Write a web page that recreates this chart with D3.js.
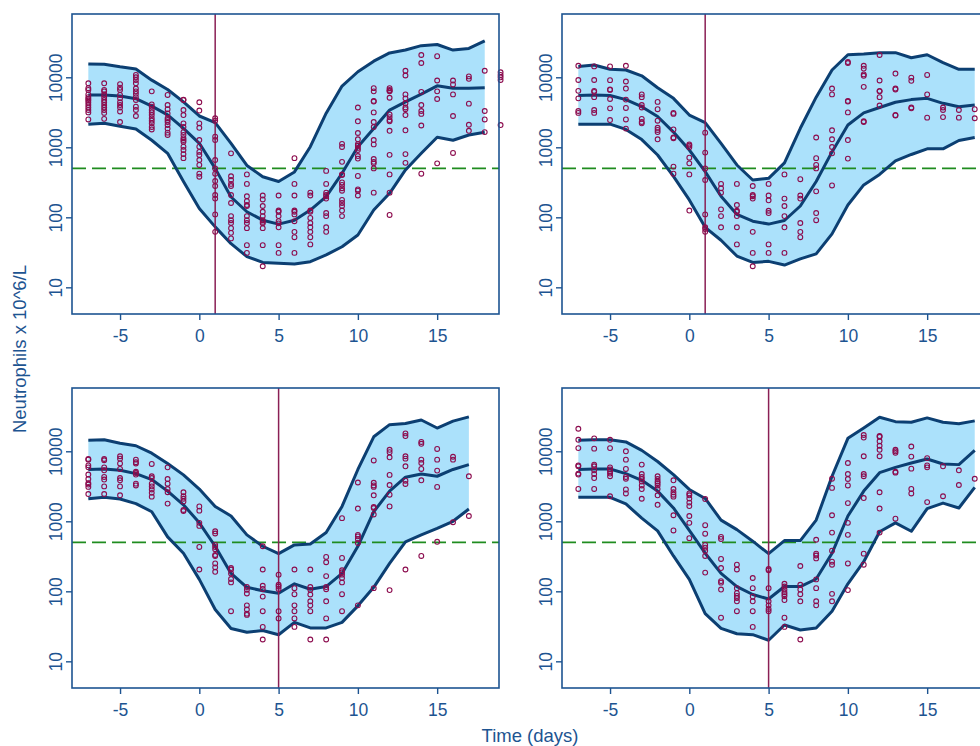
<!DOCTYPE html>
<html>
<head>
<meta charset="utf-8">
<script src="https://cdn.jsdelivr.net/npm/d3@7"></script>
<style>
body { margin: 0; background: #ffffff; }
svg text { font-family: "Liberation Sans", Arial, sans-serif; fill: #1d5491; }
</style>
</head>
<body>
<svg id="chart" width="980" height="746"></svg>
<script>

// days for the band lines
var days = [-7,-6,-5,-4,-3,-2,-1,0,1,2,3,4,5,6,7,8,9,10,11,12,13,14,15,16,17,18];

var xTicks = [-5, 0, 5, 10, 15];
var yTicks = [10, 100, 1000, 10000];
var cutoff = 500;
var markDays = [1, 1, 5, 5];

var upper1  = [15500,15400,14100,13100,9100,6700,4450,2800,2250,1140,550,380,325,445,1020,3070,7500,12000,17000,22300,24500,28300,29400,24500,25800,33200];
var median1 = [5580,5580,5400,4950,3870,2900,1860,1140,500,195,120,91,80,91,127,197,425,1020,1860,3400,4450,5750,7550,6950,6950,7100];
var lower1  = [2140,2200,2000,1820,1260,820,325,134,73,42,27.5,22.7,22,21.5,23.2,29,38,56,127,220,475,820,1390,1260,1500,1640];

var upper2  = [14300,15000,13000,12700,10500,7100,5000,2890,2250,1140,559,341,360,600,1870,5200,12700,21000,21500,22500,22500,19000,21000,16200,13000,13000];
var median2 = [5500,5590,5500,4800,3800,2750,1650,915,450,200,110,88,80,90,145,325,860,2080,3100,3700,4400,4800,5000,4250,3800,4020];
var lower2  = [2140,2140,2140,1800,1290,776,385,177,72,47,28,22.7,23.5,20.8,25.5,30,58,150,290,410,640,790,950,950,1250,1380];

var upper3  = [14400,14600,13000,12000,9400,6700,4600,2890,1630,1190,640,440,345,460,474,690,1630,5500,16100,24000,25000,28000,21500,27000,31000];
var median3 = [5500,5590,5350,4800,3950,2700,1720,950,440,180,114,102,94,128,107,117,180,440,1370,2700,4270,4740,4400,5500,6450];
var lower3  = [2100,2200,2080,1790,1370,600,350,148,55,29.5,26,27.5,24,36,30,30,36,62,114,250,510,640,790,1000,1500];

var upper4  = [14400,14600,14600,13600,10300,7150,4650,2850,2120,1040,760,520,345,530,530,1040,4400,15300,21500,30700,26500,26000,30000,26000,24800,27200];
var median4 = [5500,5590,5590,4800,3850,2700,1550,740,350,180,117,90,77.6,117,117,150,350,1190,2700,4950,5900,6800,7760,6590,6450,10300];
var lower4  = [2200,2200,2200,1770,1110,730,320,148,48,29.5,24.8,24,20,33,28,30,52,128,265,710,950,720,1520,1820,1550,3050];

// observed counts, [day, [values]]
var pts1 = [
    [-7, [8200,7000,6590,5700,5200,4900,4650,4350,4020,3700,3410,3150,2500]],
    [-6, [8200,6590,6300,5700,5200,4740,4400,4020,3700,3410,3100,2550]],
    [-5, [8000,7100,6600,5590,5000,4400,4020,3700,3250,2300]],
    [-4, [10800,10000,9150,8200,6900,6300,5800,5200,4740,3800,3410,2800]],
    [-3, [6300,4100,3800,3410,3150,2890,2600,2400,2200,1950,1800]],
    [-2, [5590,4020,3500,3050,2600,2450,2300,2080,1850,1620,1500]],
    [-1, [4800,4740,3410,2890,2200,1950,1650,1500,1350,1270,1200,1020,915,800,700]],
    [0,  [4400,3350,2200,1900,1270,1020,860,776,659,560,420,380]],
    [1,  [2600,2400,1420,1270,659,500,420,330,280,208,185,110,62]],
    [2,  [820,385,341,300,280,208,160,104,91,83,70,60,50]],
    [3,  [410,300,200,170,150,145,104,91,83,70,40,31]],
    [4,  [205,180,145,120,104,91,86,82,70,40,20]],
    [5,  [205,125,120,104,88,82,72,40,31]],
    [6,  [700,300,205,125,120,110,88,62,52,31]],
    [7,  [225,205,125,120,98,83,72,62,52,41]],
    [8,  [460,300,225,208,200,185,115,104,72,62]],
    [9,  [1120,1010,620,410,402,315,290,260,240,177,160,145,125,104]],
    [10, [3700,2350,1600,1300,1110,1050,980,915,750,690,390,250,240,205]],
    [11, [7000,6300,4600,4500,3150,2300,1950,1270,1100,680,620,590,500,225]],
    [12, [7000,6600,6400,6300,5100,2950,2700,2450,2350,1720,780,410,225,108]],
    [13, [12400,10600,5700,5000,4250,3700,3500,2890,1750,800,600]],
    [14, [20800,16000,6200,4020,3300,3000,2050,420]],
    [15, [20000,9000,6300,4900,590]],
    [16, [9000,7900,5700,2800,830]],
    [17, [10300,9500,4200,2100,1720]],
    [18, [12400,3300,2500,1650]],
    [19, [11800,10800,10000,9150,2080]]
];

var pts2 = [
    [-7, [14600,9150,6400,5000,3300,3100]],
    [-6, [14300,9150,6400,6200,5200,3410,3100]],
    [-5, [14300,9100,6700,6600,4900,3600,2450]],
    [-4, [14600,8700,6900,4800,3650,2500,1850]],
    [-3, [5700,5200,4020,3700,2550,2300,2200]],
    [-2, [4450,3500,2400,1900,1770,1650,1300]],
    [-1, [3100,3000,1800,1380,1350,530,420]],
    [0,  [1100,1060,1000,710,590,410,125]],
    [1,  [1620,840,500,341,110,72,68,62]],
    [2,  [300,260,225,130,104,72]],
    [3,  [300,150,124,120,104,72,41]],
    [4,  [280,208,200,185,62,31,20]],
    [5,  [300,205,175,124,115,41,31]],
    [6,  [410,185,145,104,72,31]],
    [7,  [350,205,185,83,62,52]],
    [8,  [1380,700,560,500,235,115,91]],
    [9,  [6900,5700,1750,1300,1010,820,285]],
    [10, [16500,16000,4600,4500,3150,1270,690]],
    [11, [14600,13300,11000,10500,7300,2350,2300]],
    [12, [20800,9000,6400,6300,5200,3950]],
    [13, [11300,6900,6700,2890,2850]],
    [14, [9900,8900,3700,3600]],
    [15, [10800,5700,2650]],
    [16, [3700,3410,2700]],
    [17, [3410,2650]],
    [18, [3500,2600]]
];

var pts3 = [
    [-7, [7760,7600,6300,5900,4650,4020,3500,3350,3100,2450]],
    [-6, [7760,7450,5900,5350,4300,3950,3150,2450]],
    [-5, [8500,7850,6700,5590,4150,3850,3150,2350]],
    [-4, [7600,7000,6700,5100,4900,4650,3450,3250]],
    [-3, [6590,4400,4150,3450,3150,2850,2550,2250]],
    [-2, [5900,4020,3450,2890,2600,1790]],
    [-1, [2600,2280,2100,1920,1450,1400]],
    [0,  [1630,1420,950,860,430,205]],
    [1,  [720,670,460,430,400,330,320,250,220,190]],
    [2,  [215,205,180,150,134,52]],
    [3,  [115,105,93,63,55,48,46]],
    [4,  [440,205,120,108,84,52,31,20.5]],
    [5,  [173,124,117,108,52,41]],
    [6,  [205,111,91,63,52,41,31]],
    [7,  [205,115,105,90,72,63,52,20.5]],
    [8,  [310,260,165,115,107,72,41,20.5]],
    [9,  [1110,300,200,187,173,155,134,91,52]],
    [10, [3580,1520,640,610,560,490,63]],
    [11, [7400,3550,3250,3100,2350,1600,1550,1250,111]],
    [12, [10500,9700,8200,4600,3300,2400,1630,104]],
    [13, [18000,16500,8500,7850,6100,3800,3410,205]],
    [14, [13600,12800,7600,6800,5590,3850,320]],
    [15, [10800,7600,5300,3100,510]],
    [16, [8350,7600,970]],
    [17, [4400,1190]]
];

var pts4 = [
    [-7, [21000,14600,11100,6300,6100,4800,4650,2900]],
    [-6, [15300,10900,6450,6100,5350,4740,4150,2900]],
    [-5, [14600,11100,5900,5500,5150,4800,4400,2280]],
    [-4, [10000,7600,5590,4300,4050,2850,2500]],
    [-3, [6450,4740,4300,4020,3700,3250,2890,2100]],
    [-2, [4400,4020,3700,3500,3250,2890,2350,1720]],
    [-1, [3850,2890,2600,2400,2250,1220,740]],
    [0,  [2500,2350,2120,1850,1650,1190,950,575]],
    [1,  [2080,880,665,460,420,380,320,185]],
    [2,  [600,560,290,215,140,133,106,42]],
    [3,  [240,205,111,94,86,80,72,52]],
    [4,  [155,111,84,72,52,31]],
    [5,  [208,200,111,72,63,56,52]],
    [6,  [128,117,106,97,91,85,75,42,31]],
    [7,  [230,124,106,91,72,20.5]],
    [8,  [545,345,325,295,148,111,72,63]],
    [9,  [4050,3000,1220,690,380,265,240,92,72]],
    [10, [6800,4740,4020,3250,1820,950,640,250,104]],
    [11, [17100,15700,8500,4740,4400,2150,345,240]],
    [12, [16500,16100,13900,12000,10500,8500,2600,1520,690]],
    [13, [10500,10000,9500,5100,4950,1090]],
    [14, [11700,8400,5650,2900,2500]],
    [15, [8000,6300,5900,1880]],
    [16, [6100,2280]],
    [17, [5350,3300]],
    [18, [4050]]
];

var panels = [
    {lower: lower1, median: median1, upper: upper1, pts: pts1, left: 72,  top: 14},
    {lower: lower2, median: median2, upper: upper2, pts: pts2, left: 562, top: 14},
    {lower: lower3, median: median3, upper: upper3, pts: pts3, left: 72,  top: 388},
    {lower: lower4, median: median4, upper: upper4, pts: pts4, left: 562, top: 388}
];

var AXISCOL = "#1d5491";
var LINECOL = "#0c3f72";
var PW = 427, PH = 300;

function drawpanel(svg, p, mark) {

    var xScale = d3.scaleLinear().domain([-8.03, 18.9]).range([0, PW]);
    var yScale = d3.scaleLog().domain([Math.pow(10, 0.619), Math.pow(10, 4.904)]).range([PH, 0]);

    var g = svg.append("g")
	.attr("transform", "translate(" + p.left + "," + p.top + ")");

    var rows = [];
    for(var kk = 0; kk < p.median.length; kk++) {
	rows.push({d: days[kk], lo: p.lower[kk], md: p.median[kk], up: p.upper[kk]});
    }

    var area = d3.area()
	.x(function(r) { return xScale(r.d); })
	.y0(function(r) { return yScale(r.lo); })
	.y1(function(r) { return yScale(r.up); });

    g.append("path")
	.datum(rows)
	.attr("d", area)
	.style("fill", "#abe1fb")
	.style("stroke", "none");

    g.append("line")
	.attr("x1", 0).attr("x2", PW)
	.attr("y1", yScale(cutoff)).attr("y2", yScale(cutoff))
	.style("stroke", "#1f8c1f")
	.style("stroke-width", 1.6)
	.style("stroke-dasharray", "14,6");

    ["lo", "md", "up"].forEach(function(key) {
	var line = d3.line()
	    .x(function(r) { return xScale(r.d); })
	    .y(function(r) { return yScale(r[key]); });
	g.append("path")
	    .datum(rows)
	    .attr("d", line)
	    .style("fill", "none")
	    .style("stroke", LINECOL)
	    .style("stroke-width", 3)
	    .style("stroke-linejoin", "round");
    });

    g.append("line")
	.attr("x1", xScale(mark)).attr("x2", xScale(mark))
	.attr("y1", 0).attr("y2", PH)
	.style("stroke", "#8a1f55")
	.style("stroke-width", 1.5);

    var flat = [];
    p.pts.forEach(function(col) {
	col[1].forEach(function(v) { flat.push({d: col[0], v: v}); });
    });

    g.selectAll("circle")
	.data(flat)
	.enter()
	.append("circle")
	.attr("cx", function(q) { return xScale(q.d); })
	.attr("cy", function(q) { return yScale(q.v); })
	.attr("r", 2.4)
	.style("fill", "none")
	.style("stroke", "#8c0c4e")
	.style("stroke-width", 1.1);

    // axes
    var gx = g.append("g")
	.attr("transform", "translate(0," + PH + ")")
	.call(d3.axisBottom(xScale).tickValues(xTicks).tickSize(6).tickPadding(5)
	      .tickFormat(function(t) { return String(t); }).tickSizeOuter(0));
    var gy = g.append("g")
	.call(d3.axisLeft(yScale).tickValues(yTicks).tickSize(6)
	      .tickFormat(function(t) { return String(t); }).tickSizeOuter(0));

    [gx, gy].forEach(function(a) {
	a.select(".domain").remove();
	a.selectAll("line").style("stroke", AXISCOL).style("stroke-width", 1.4);
	a.selectAll("text").style("font-size", "17.5px").style("fill", AXISCOL)
	    .style("font-family", "'Liberation Sans', Arial, sans-serif");
    });
    gx.selectAll("text").attr("dy", "0.95em");
    gy.selectAll("text")
	.attr("x", null).attr("dy", null)
	.attr("text-anchor", "middle")
	.attr("transform", "translate(-10,0) rotate(-90)");

    g.append("rect")
	.attr("width", PW)
	.attr("height", PH)
	.style("fill", "none")
	.style("stroke", AXISCOL)
	.style("stroke-width", 1.6);
}

var svg = d3.select("#chart");
svg.append("rect").attr("width", 980).attr("height", 746).style("fill", "#ffffff");

for(var kk = 0; kk < panels.length; kk++) {
    drawpanel(svg, panels[kk], markDays[kk]);
}

svg.append("text")
    .attr("transform", "translate(26,349) rotate(-90)")
    .attr("text-anchor", "middle")
    .style("font-size", "18.5px")
    .text("Neutrophils x 10^6/L");

svg.append("text")
    .attr("x", 530)
    .attr("y", 742)
    .attr("text-anchor", "middle")
    .style("font-size", "18.5px")
    .text("Time (days)");

</script>
</body>
</html>
